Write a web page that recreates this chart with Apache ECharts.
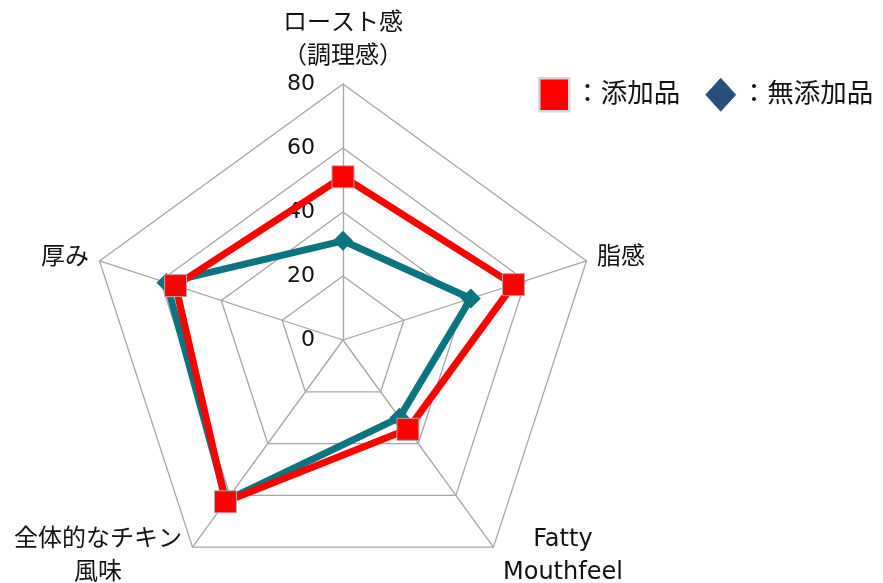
<!DOCTYPE html>
<html><head><meta charset="utf-8">
<script src="https://cdn.jsdelivr.net/npm/echarts@6/dist/echarts.min.js"></script>
<style>html,body{margin:0;padding:0;background:#fff}#c{width:883px;height:583px}</style>
</head><body><div id="c"></div>
<script>
// indicators in ECharts drawing order (counter-clockwise from top)
const indicatorNames = ['ロースト感\n（調理感）', '厚み', '全体的なチキン\n風味', 'Fatty\nMouthfeel', '脂感'];
const seriesNames = ['：添加品', '：無添加品'];
const additiveValues = [51, 55, 62.5, 34.5, 56];
const noAdditiveValues = [31, 58, 62, 30, 42];
const axisMax = 80;
const tickLabels = ['0', '20', '40', '60', '80'];

const FONT = '"DejaVu Sans", "Noto Sans CJK JP", sans-serif';
const chart = echarts.init(document.getElementById('c'), null, {renderer: 'canvas'});

const nameBlockWidth = {0: 130, 2: 176, 3: 126};
function nameFmt(v) {
  const idx = indicatorNames.indexOf(v);
  if (v.indexOf('\n') < 0) return v;
  const key = 'w' + idx;
  return v.split('\n').map(s => '{' + key + '|' + s + '}').join('\n');
}
const rich = {};
Object.keys(nameBlockWidth).forEach(k => {
  rich['w' + k] = {fontFamily: FONT, fontSize: 24, color: '#111', align: 'center', width: nameBlockWidth[k], lineHeight: 33};
});

const option = {
  animation: false,
  backgroundColor: '#fff',
  legend: {
    left: 533, top: 72,
    itemWidth: 30, itemHeight: 33, itemGap: 25,
    textStyle: {fontFamily: FONT, fontSize: 26.5, color: '#111'},
    data: [
      {name: seriesNames[0], icon: 'rect', itemStyle: {color: '#ff0000', borderColor: '#d6d6d6', borderWidth: 2.5}},
      {name: seriesNames[1], icon: 'diamond', itemStyle: {color: '#264f7d', borderColor: '#3a5f8f', borderWidth: 1}}
    ]
  },
  radar: {
    center: [343, 340],
    radius: 256,
    startAngle: 90,
    shape: 'polygon',
    splitNumber: 4,
    indicator: indicatorNames.map((n, i) => {
      const o = {name: n, min: 0, max: axisMax};
      if (i === 0) o.axisLabel = {
        show: true, fontFamily: FONT, fontSize: 22, color: '#111', margin: 28,
        formatter: (v) => tickLabels[Math.round(v / 20)]
      };
      return o;
    }),
    axisName: {
      fontFamily: FONT, fontSize: 24, color: '#111',
      formatter: nameFmt,
      rich: rich
    },
    nameGap: 11,
    axisLine: {lineStyle: {color: '#a6a6a6', width: 1.3}},
    splitLine: {lineStyle: {color: '#a6a6a6', width: 1.3}},
    splitArea: {show: false},
    axisTick: {show: false},
    axisLabel: {show: false}
  },
  series: [{
    type: 'radar',
    z: 3,
    data: [
      {
        name: seriesNames[1], value: noAdditiveValues,
        symbol: 'diamond', symbolSize: 20,
        lineStyle: {color: '#0a7580', width: 7},
        itemStyle: {color: '#0a7580', borderColor: '#0a7580', borderWidth: 0}
      },
      {
        name: seriesNames[0], value: additiveValues,
        symbol: 'rect', symbolSize: 22,
        lineStyle: {color: '#ff0000', width: 7},
        itemStyle: {color: '#ff0000', borderColor: '#c8a0a0', borderWidth: 1}
      }
    ]
  }]
};
chart.setOption(option);
</script>
</body></html>
